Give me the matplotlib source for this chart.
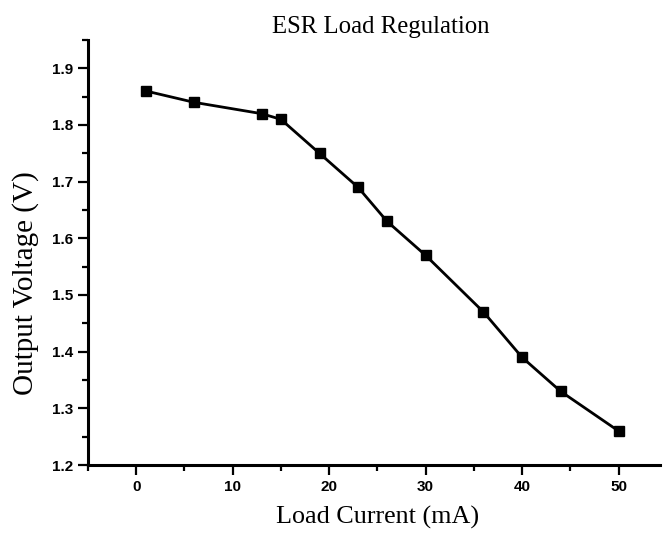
import matplotlib
matplotlib.use("Agg")
import matplotlib.pyplot as plt
from matplotlib.ticker import MultipleLocator

load_current = [1, 6, 13, 15, 19, 23, 26, 30, 36, 40, 44, 50]
output_voltage = [1.86, 1.84, 1.82, 1.81, 1.75, 1.69, 1.63, 1.57, 1.47, 1.39, 1.33, 1.26]

fig = plt.figure(figsize=(6.63, 5.40), dpi=100)
ax = fig.add_axes([88/663, 1-465/540, (660-88)/663, (465-40)/540])

ax.plot(load_current, output_voltage, color="black", lw=2.0, marker="s",
        markersize=7.5, markerfacecolor="black", markeredgecolor="black")

ax.set_xlim(-5, 54.3)
ax.set_ylim(1.2, 1.95)
ax.xaxis.set_minor_locator(MultipleLocator(5))
ax.yaxis.set_minor_locator(MultipleLocator(0.05))
ax.set_xticks([0, 10, 20, 30, 40, 50])
ax.set_yticks([1.2, 1.3, 1.4, 1.5, 1.6, 1.7, 1.8, 1.9])
ax.set_yticklabels(["1.2", "1.3", "1.4", "1.5", "1.6", "1.7", "1.8", "1.9"])

for s in ["top", "right"]:
    ax.spines[s].set_visible(False)
for s in ["left", "bottom"]:
    ax.spines[s].set_linewidth(2.2)

ax.tick_params(which="major", direction="out", length=7, width=1.6)
ax.tick_params(which="minor", direction="out", length=4, width=1.6)
for lab in ax.get_xticklabels() + ax.get_yticklabels():
    lab.set_fontfamily("Liberation Sans")
    lab.set_fontweight("bold")
    lab.set_fontsize(11)

fig.text(380.5/663, 1-27/540, "ESR Load Regulation", family="Liberation Serif",
         fontsize=17.8, ha="center", va="center")
fig.text(378/663, 1-517/540, "Load Current (mA)", family="Liberation Serif",
         fontsize=18.8, ha="center", va="center")
fig.text(26/663, 1-283/540, "Output Voltage (V)", family="Liberation Serif",
         fontsize=21, ha="center", va="center", rotation=90)

fig.savefig("out.png", dpi=100)
